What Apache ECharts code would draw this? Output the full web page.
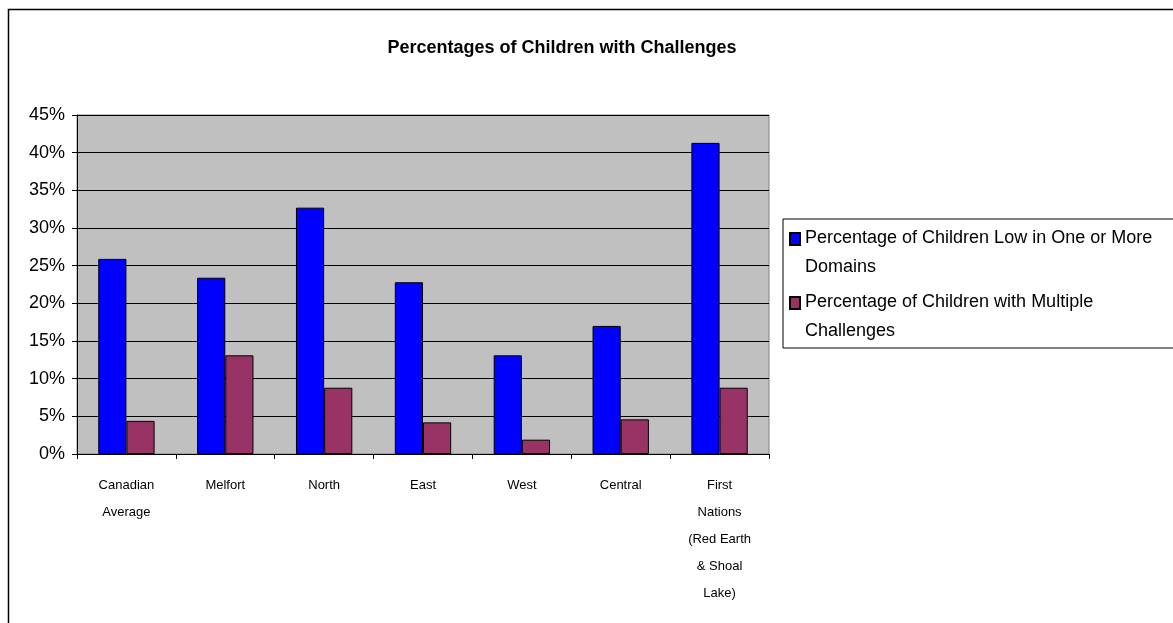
<!DOCTYPE html>
<html lang="en">
<head>
    <meta charset="UTF-8">
    <title>Percentages of Children with Challenges</title>
    <script src="https://cdn.jsdelivr.net/npm/echarts@6/dist/echarts.min.js"></script>
    <style>
        html, body { margin: 0; padding: 0; background: #fff; }
        #main { width: 1173px; height: 623px; }
    </style>
</head>
<body>
    <div id="main"></div>
    <script>
        // data
        var categories = ['Canadian\nAverage', 'Melfort', 'North', 'East', 'West', 'Central',
            'First\nNations\n(Red Earth\n& Shoal\nLake)'];
        var lowInDomains = [25.9, 23.4, 32.7, 22.8, 13.1, 17.0, 41.3];
        var multipleChallenges = [4.4, 13.1, 8.8, 4.2, 1.9, 4.6, 8.8];
        var seriesNames = ['Percentage of Children Low in One or More Domains',
            'Percentage of Children with Multiple Challenges'];
        var legendLabels = ['Percentage of Children Low in One or More\nDomains',
            'Percentage of Children with Multiple\nChallenges'];

        var font = '"Liberation Sans", Arial, sans-serif';
        var myChart = echarts.init(document.getElementById('main'));

        // legend square sitting on the first text line (bounding box padded downwards by a bare moveTo)
        var topSquare = 'path://M0,0L10,0L10,12L0,12Z M0,40';

        myChart.setOption({
            animation: false,
            backgroundColor: '#fff',
            textStyle: { fontFamily: font },
            title: {
                text: 'Percentages of Children with Challenges',
                left: 557,
                textAlign: 'center',
                top: 34,
                textStyle: { fontSize: 18, fontWeight: 'bold', color: '#000', fontFamily: font }
            },
            graphic: [{
                // outer chart border
                type: 'rect',
                shape: { x: 8.5, y: 9.5, width: 1300, height: 800 },
                style: { fill: 'none', stroke: '#000', lineWidth: 1.5 },
                silent: true
            }],
            legend: {
                left: 783,
                top: 219,
                orient: 'vertical',
                itemWidth: 10,
                itemHeight: 40,
                itemGap: 6,
                padding: [5, 60, 2, 6],
                borderColor: '#000',
                borderWidth: 1,
                backgroundColor: '#fff',
                icon: topSquare,
                formatter: function (name) {
                    return legendLabels[seriesNames.indexOf(name)];
                },
                textStyle: { fontSize: 18, color: '#000', lineHeight: 29, fontFamily: font },
                data: seriesNames
            },
            grid: {
                left: 77,
                right: 404,
                top: 115,
                bottom: 169,
                show: true,
                backgroundColor: '#c0c0c0',
                borderColor: '#808080',
                borderWidth: 1
            },
            xAxis: {
                type: 'category',
                data: categories,
                axisLine: { lineStyle: { color: '#000' } },
                axisTick: { show: true, length: 5, lineStyle: { color: '#000' } },
                axisLabel: {
                    interval: 0,
                    color: '#000',
                    fontSize: 13,
                    lineHeight: 27,
                    margin: 18,
                    fontFamily: font
                }
            },
            yAxis: {
                type: 'value',
                min: 0,
                max: 45,
                interval: 5,
                axisLine: { show: true, lineStyle: { color: '#000' } },
                axisTick: { show: true, length: 5, lineStyle: { color: '#000' } },
                splitLine: { lineStyle: { color: '#000', width: 1 } },
                axisLabel: {
                    formatter: '{value}%',
                    color: '#000',
                    fontSize: 18,
                    margin: 12,
                    fontFamily: font
                }
            },
            series: [{
                name: seriesNames[0],
                type: 'bar',
                data: lowInDomains,
                barGap: '0%',
                barCategoryGap: '43%',
                itemStyle: { color: '#0000ff', borderColor: '#000', borderWidth: 1 }
            }, {
                name: seriesNames[1],
                type: 'bar',
                data: multipleChallenges,
                itemStyle: { color: '#993366', borderColor: '#000', borderWidth: 1 }
            }]
        });
    </script>
</body>
</html>
